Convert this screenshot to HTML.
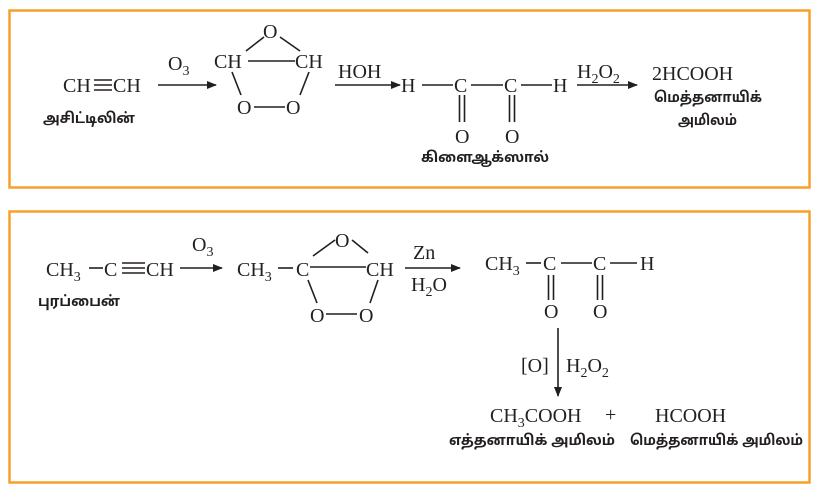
<!DOCTYPE html>
<html><head><meta charset="utf-8"><style>
html,body{margin:0;padding:0;background:#fff;}
svg{display:block}
.c{font-family:"Liberation Serif",serif;font-size:20px;fill:#231f20}
.s{font-size:14px}
.t{font-family:"Liberation Sans","Noto Sans Tamil","Noto Sans CJK SC",sans-serif;font-size:14.5px;fill:#231f20;font-weight:bold}
line{stroke:#231f20;stroke-width:1.6}
</style></head><body>
<svg width="821" height="489" viewBox="0 0 821 489" xmlns="http://www.w3.org/2000/svg">
<defs><marker id="a" markerWidth="10" markerHeight="8" refX="9" refY="4" orient="auto" markerUnits="userSpaceOnUse"><path d="M0,0 L10,4 L0,8 Z" fill="#231f20"/></marker></defs>
<rect x="9.5" y="10.5" width="800" height="177" fill="none" stroke="#f7a12c" stroke-width="2.5"/>
<rect x="9.5" y="211.5" width="800" height="271" fill="none" stroke="#f7a12c" stroke-width="2.5"/>

<!-- Box 1 -->
<text class="c" x="63" y="92">CH</text>
<line x1="94" y1="80" x2="112" y2="80"/><line x1="94" y1="85" x2="112" y2="85"/><line x1="94" y1="90" x2="112" y2="90"/>
<text class="c" x="113" y="92">CH</text>
<text class="t" x="43" y="123" textLength="92" lengthAdjust="spacingAndGlyphs">அசிட்டிலின்</text>
<line x1="158" y1="85" x2="216" y2="85" marker-end="url(#a)"/>
<text class="c" x="168" y="70">O<tspan class="s" dy="5">3</tspan></text>
<text class="c" x="263" y="38">O</text>
<text class="c" x="214" y="68">CH</text>
<text class="c" x="295" y="68">CH</text>
<line x1="248" y1="61" x2="295" y2="61"/>
<line x1="264" y1="37" x2="246" y2="51"/><line x1="280" y1="37" x2="300" y2="51"/>
<line x1="232" y1="72" x2="241" y2="95"/><line x1="309" y1="72" x2="300" y2="95"/>
<text class="c" x="237" y="114">O</text>
<text class="c" x="286" y="114">O</text>
<line x1="254" y1="107" x2="285" y2="107"/>
<line x1="335" y1="85" x2="400" y2="85" marker-end="url(#a)"/>
<text class="c" x="338" y="78">HOH</text>
<text class="c" x="401" y="92">H</text>
<line x1="422" y1="85" x2="453" y2="85"/>
<text class="c" x="454" y="92">C</text>
<line x1="471" y1="85" x2="503" y2="85"/>
<text class="c" x="504" y="92">C</text>
<line x1="521" y1="85" x2="552" y2="85"/>
<text class="c" x="553" y="92">H</text>
<line x1="459.5" y1="95" x2="459.5" y2="122"/><line x1="464.5" y1="95" x2="464.5" y2="122"/>
<line x1="509.5" y1="95" x2="509.5" y2="122"/><line x1="514.5" y1="95" x2="514.5" y2="122"/>
<text class="c" x="455" y="143">O</text>
<text class="c" x="505" y="143">O</text>
<text class="t" x="421" y="162" textLength="128" lengthAdjust="spacingAndGlyphs">கிளைஆக்ஸால்</text>
<line x1="577" y1="85" x2="637" y2="85" marker-end="url(#a)"/>
<text class="c" x="577" y="78">H<tspan class="s" dy="5">2</tspan><tspan dy="-5">O</tspan><tspan class="s" dy="5">2</tspan></text>
<text class="c" x="652" y="80">2HCOOH</text>
<text class="t" x="654" y="102" textLength="108" lengthAdjust="spacingAndGlyphs">மெத்தனாயிக்</text>
<text class="t" x="678" y="125" textLength="59" lengthAdjust="spacingAndGlyphs">அமிலம்</text>

<!-- Box 2 -->
<text class="c" x="46" y="276">CH<tspan class="s" dy="5">3</tspan></text>
<line x1="89" y1="268" x2="103" y2="268"/>
<text class="c" x="104" y="276">C</text>
<line x1="122" y1="263" x2="145" y2="263"/><line x1="122" y1="268" x2="145" y2="268"/><line x1="122" y1="273" x2="145" y2="273"/>
<text class="c" x="146" y="276">CH</text>
<text class="t" x="38" y="306" textLength="82" lengthAdjust="spacingAndGlyphs">புரப்பைன்</text>
<line x1="180" y1="268" x2="222" y2="268" marker-end="url(#a)"/>
<text class="c" x="192" y="251">O<tspan class="s" dy="5">3</tspan></text>
<text class="c" x="237" y="276">CH<tspan class="s" dy="5">3</tspan></text>
<line x1="278" y1="268" x2="293" y2="268"/>
<text class="c" x="296" y="276">C</text>
<line x1="310" y1="267" x2="366" y2="267"/>
<text class="c" x="366" y="276">CH</text>
<text class="c" x="335" y="247">O</text>
<line x1="335" y1="240" x2="313" y2="256"/><line x1="352" y1="240" x2="368" y2="253"/>
<line x1="308" y1="280" x2="317" y2="303"/><line x1="378" y1="280" x2="370" y2="303"/>
<text class="c" x="310" y="322">O</text>
<text class="c" x="359" y="322">O</text>
<line x1="326" y1="314" x2="357" y2="314"/>
<line x1="405" y1="268" x2="460" y2="268" marker-end="url(#a)"/>
<text class="c" x="413" y="259">Zn</text>
<text class="c" x="411" y="291">H<tspan class="s" dy="5">2</tspan><tspan dy="-5">O</tspan></text>
<text class="c" x="485" y="270">CH<tspan class="s" dy="5">3</tspan></text>
<line x1="526" y1="263" x2="541" y2="263"/>
<text class="c" x="543" y="270">C</text>
<line x1="561" y1="263" x2="592" y2="263"/>
<text class="c" x="593" y="270">C</text>
<line x1="610" y1="263" x2="637" y2="263"/>
<text class="c" x="640" y="270">H</text>
<line x1="548.5" y1="275" x2="548.5" y2="300"/><line x1="553.5" y1="275" x2="553.5" y2="300"/>
<line x1="597.5" y1="275" x2="597.5" y2="300"/><line x1="602.5" y1="275" x2="602.5" y2="300"/>
<text class="c" x="544" y="318">O</text>
<text class="c" x="593" y="318">O</text>
<line x1="558" y1="328" x2="558" y2="396" marker-end="url(#a)"/>
<text class="c" x="521" y="372">[O]</text>
<text class="c" x="566" y="372">H<tspan class="s" dy="5">2</tspan><tspan dy="-5">O</tspan><tspan class="s" dy="5">2</tspan></text>
<text class="c" x="490" y="422">CH<tspan class="s" dy="5">3</tspan><tspan dy="-5">COOH</tspan></text>
<text class="c" x="605" y="421">+</text>
<text class="c" x="655" y="422">HCOOH</text>
<text class="t" x="449" y="445" textLength="166" lengthAdjust="spacingAndGlyphs">எத்தனாயிக் அமிலம்</text>
<text class="t" x="630" y="445" textLength="173" lengthAdjust="spacingAndGlyphs">மெத்தனாயிக் அமிலம்</text>
</svg>
</body></html>
